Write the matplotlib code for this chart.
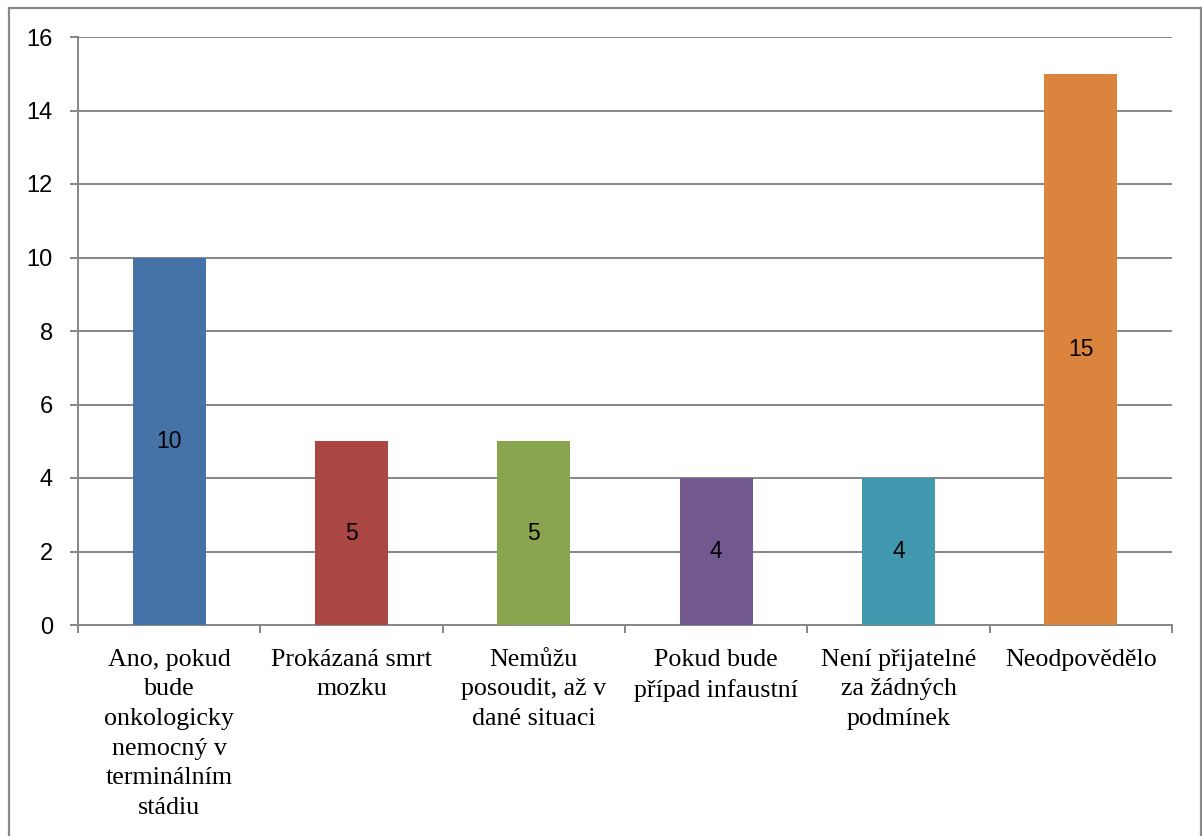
import matplotlib
matplotlib.use("Agg")
import matplotlib.pyplot as plt
from matplotlib.lines import Line2D
import numpy as np

categories = [
    "Ano, pokud\nbude\nonkologicky\nnemocný v\nterminálním\nstádiu",
    "Prokázaná smrt\nmozku",
    "Nemůžu\nposoudit, až v\ndané situaci",
    "Pokud bude\npřípad infaustní",
    "Není přijatelné\nza žádných\npodmínek",
    "Neodpovědělo",
]
values = [10, 5, 5, 4, 4, 15]
colors = ["#4572A7", "#AA4643", "#89A54E", "#71588F", "#4198AF", "#DB843D"]
y_ticks = [0, 2, 4, 6, 8, 10, 12, 14, 16]

grey = "#868686"

fig = plt.figure(figsize=(12.02, 8.36), dpi=100)
ax = fig.add_axes([78 / 1202, 1 - 625 / 836, (1172 - 78) / 1202, (625 - 37) / 836])

x = np.arange(len(categories))
ax.bar(x, values, width=0.4, color=colors, zorder=3)

for xi, v in zip(x, values):
    ax.text(xi, v / 2, str(v), ha="center", va="center",
            fontsize=16.5, family="Liberation Sans", color="black", zorder=4)

ax.set_xlim(-0.5, len(categories) - 0.5)
ax.set_ylim(0, 16)
ax.set_yticks(y_ticks)
ax.set_yticklabels([str(t) for t in y_ticks], family="Liberation Sans", fontsize=17)
ax.yaxis.grid(True, color=grey, linewidth=1.4, zorder=0)
ax.set_axisbelow(True)

ax.set_xticks(x)
ax.set_xticklabels(categories, family="Liberation Serif", fontsize=18.7, va="top")
for lbl in ax.get_xticklabels():
    lbl.set_linespacing(1.45)
ax.set_xticks(np.arange(len(categories) + 1) - 0.5, minor=True)
ax.tick_params(axis="x", which="major", length=0, pad=17)
ax.tick_params(axis="x", which="minor", length=6, width=1.4, color=grey, direction="out")
ax.tick_params(axis="y", length=6, width=1.4, color=grey, pad=12)

for side in ("top", "right"):
    ax.spines[side].set_visible(False)
for side in ("left", "bottom"):
    ax.spines[side].set_color(grey)
    ax.spines[side].set_linewidth(1.4)

# outer frame around the chart area (bottom edge runs off the canvas)
W, H = 1202, 836
frame_kw = dict(color="#888888", linewidth=1.6, transform=fig.transFigure)
fig.add_artist(Line2D([9 / W, 9 / W], [0, 1 - 8 / H], **frame_kw))
fig.add_artist(Line2D([9 / W, 1200.5 / W], [1 - 8 / H, 1 - 8 / H], **frame_kw))
fig.add_artist(Line2D([1200.5 / W, 1200.5 / W], [0, 1 - 8 / H], **frame_kw))

fig.savefig("out.png", dpi=100, facecolor="white")
